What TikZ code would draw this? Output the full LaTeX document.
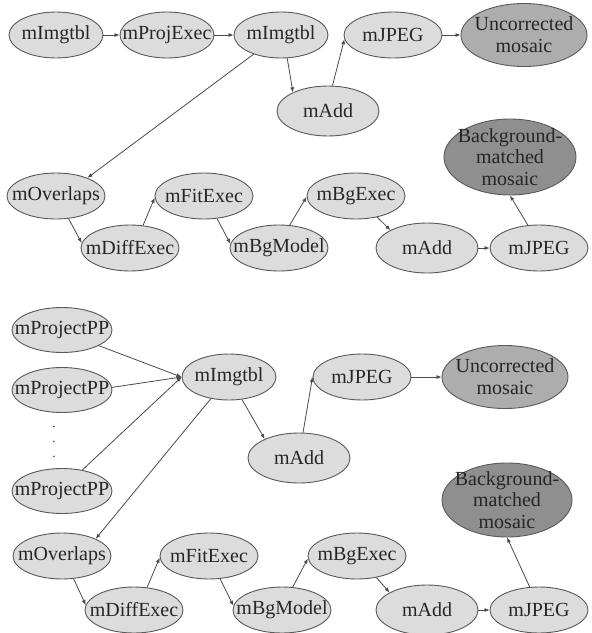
\documentclass[tikz,border=0pt]{standalone}
\usepackage{fontspec}
\setmainfont{Liberation Serif}
\newfontfamily\jobfont{Liberation Serif}
\usetikzlibrary{positioning,shapes.geometric,arrows.meta}

\definecolor{jobfill}{HTML}{DCDCDC}
\definecolor{rawfill}{HTML}{ADADAD}
\definecolor{bgfill}{HTML}{8F8F8F}
\definecolor{rim}{HTML}{595959}
\definecolor{wire}{HTML}{4A4A4A}

\tikzset{
  job/.style={ellipse, draw=rim, line width=0.9pt, fill=jobfill,
    minimum width=98pt, minimum height=46pt, inner xsep=-40pt, inner ysep=-30pt,
    font=\jobfont\fontsize{20}{21.7}\selectfont, text=black!85},
  tbljob/.style={job, minimum width=94pt},
  addjob/.style={job, minimum width=102pt, minimum height=50pt},
  ppjob/.style={job, minimum width=100pt, minimum height=45pt},
  mosaic/.style={job, align=center, fill=rawfill, minimum width=126pt, minimum height=63pt},
  matched/.style={mosaic, fill=bgfill, minimum width=132pt, minimum height=76pt},
  gapdots/.style={inner sep=0pt, align=center, font=\jobfont\fontsize{13}{15}\selectfont, text=black!85},
  flow/.style={draw=wire, line width=0.8pt, -{Latex[length=5pt,width=4pt]}}
}

\begin{document}
\begin{tikzpicture}[x=1pt, y=-1pt, on grid]
  \useasboundingbox (0,0) rectangle (592,633);

  \node[tbljob] (img1) at (56,35) {mImgtbl};
  \node[tbljob, right=111pt of img1] (proj) {mProjExec};
  \node[tbljob, right=114pt of proj] (img2) {mImgtbl};
  \node[job, right=112pt of img2] (jpeg1) {mJPEG};
  \node[mosaic, right=131pt of jpeg1] (unc1) {Uncorrected\\mosaic};
  \node[addjob, below right=76pt and 47pt of img2] (add1) {mAdd};
  \node[job, below=161pt of img1] (ovl1) {mOverlaps};
  \node[job, right=148pt of ovl1] (fit1) {mFitExec};
  \node[job, right=152pt of fit1] (bgexec1) {mBgExec};
  \node[job, below right=52pt and 74pt of ovl1] (diff1) {mDiffExec};
  \node[job, right=149pt of diff1] (bgmod1) {mBgModel};
  \node[addjob, right=148pt of bgmod1] (add2) {mAdd};
  \node[job, right=112pt of add2] (jpeg2) {mJPEG};
  \node[matched, above left=91pt and 29pt of jpeg2] (bgm1) {Background-\\matched\\mosaic};

  \node[ppjob] (pp1) at (62,330) {mProjectPP};
  \node[ppjob, below=60pt of pp1] (pp2) {mProjectPP};
  \node[gapdots, below left=52pt and 8pt of pp2] (gap) {.\\.\\.};
  \node[ppjob, below=161pt of pp1] (pp3) {mProjectPP};
  \node[tbljob, below right=47pt and 167pt of pp1] (img3) {mImgtbl};
  \node[job, right=133pt of img3] (jpeg3) {mJPEG};
  \node[mosaic, right=143pt of jpeg3] (unc3) {Uncorrected\\mosaic};
  \node[addjob, below right=81pt and 70pt of img3] (add3) {mAdd};
  \node[job, below=65pt of pp3] (ovl3) {mOverlaps};
  \node[job, right=147pt of ovl3] (fit3) {mFitExec};
  \node[job, right=148pt of fit3] (bgexec3) {mBgExec};
  \node[job, below right=54pt and 72pt of ovl3] (diff3) {mDiffExec};
  \node[job, right=148pt of diff3] (bgmod3) {mBgModel};
  \node[addjob, right=145pt of bgmod3] (add4) {mAdd};
  \node[job, right=112pt of add4] (jpeg4) {mJPEG};
  \node[matched, above left=110pt and 32pt of jpeg4, minimum width=130pt, minimum height=74pt] (bgm3) {Background-\\matched\\mosaic};

  \draw[flow] (img1) -- (proj);
  \draw[flow] (proj) -- (img2);
  \draw[flow] (img2.-75) -- (add1.152);
  \draw[flow] (img2.215) -- (ovl1.30);
  \draw[flow] (add1.80) -- (jpeg1.185);
  \draw[flow] (jpeg1) -- (unc1);
  \draw[flow] (ovl1.-61) -- (diff1.174);
  \draw[flow] (diff1.60) -- (fit1.182);
  \draw[flow] (fit1.-60) -- (bgmod1.175);
  \draw[flow] (bgmod1.65) -- (bgexec1.181);
  \draw[flow] (bgexec1.-45) -- (add2.154);
  \draw[flow] (add2) -- (jpeg2);
  \draw[flow] (jpeg2.116) -- (bgm1.south);

  \draw[flow] (pp1.-23) -- (img3.west);
  \draw[flow] (pp2.3) -- (img3.west);
  \draw[flow] (pp3.46) -- (img3.west);
  \draw[flow] (img3.230) -- (ovl3.27);
  \draw[flow] (img3.-60) -- (add3.151);
  \draw[flow] (add3.81) -- (jpeg3.west);
  \draw[flow] (jpeg3) -- (unc3);
  \draw[flow] (ovl3.-63) -- (diff3.174);
  \draw[flow] (diff3.60) -- (fit3.182);
  \draw[flow] (fit3.-64) -- (bgmod3.175);
  \draw[flow] (bgmod3.65) -- (bgexec3.183);
  \draw[flow] (bgexec3.-48) -- (add4.155);
  \draw[flow] (add4) -- (jpeg4);
  \draw[flow] (jpeg4.112) -- (bgm3.south);
\end{tikzpicture}
\end{document}
